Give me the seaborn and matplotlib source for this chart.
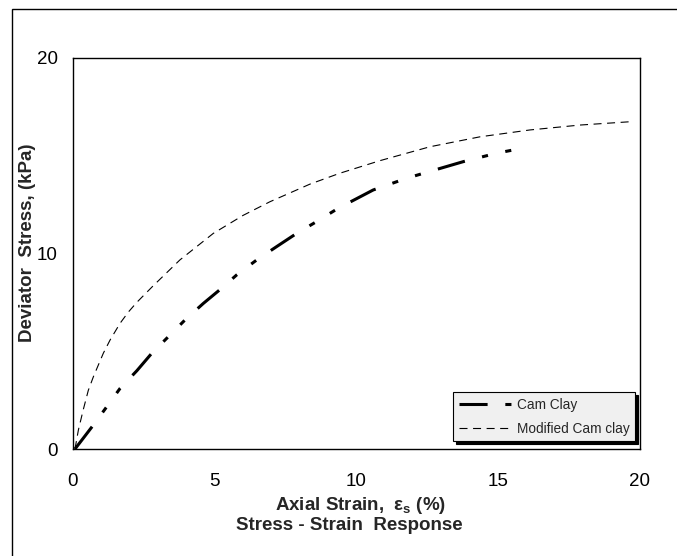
import numpy as np
import pandas as pd
import seaborn as sns
import matplotlib.pyplot as plt
from matplotlib.patches import Rectangle

# values
cam_strain = [0.07, 0.72, 1.19, 1.66, 2.25, 2.78, 3.36, 3.95, 4.6, 5.24, 5.77, 6.48,
              7.18, 7.89, 8.59, 9.35, 10.59, 11.77, 12.59, 13.77, 14.94, 15.9]
cam_stress = [0.0, 1.23, 2.16, 3.1, 4.0, 4.9, 5.74, 6.6, 7.45, 8.22, 8.9, 9.67,
              10.35, 11.03, 11.63, 12.31, 13.25, 13.85, 14.2, 14.7, 15.13, 15.4]

mcc_strain = [0.07, 0.19, 0.36, 0.54, 0.72, 1.07, 1.31, 1.66, 1.95, 2.25, 2.83, 3.77,
              4.95, 6.0, 6.95, 8.36, 9.4, 10.83, 12.59, 14.36, 16.12, 17.88, 19.65]
mcc_stress = [0.0, 0.97, 2.0, 3.0, 3.7, 4.9, 5.58, 6.43, 7.0, 7.5, 8.35, 9.67,
              11.03, 11.95, 12.65, 13.55, 14.1, 14.75, 15.46, 15.97, 16.32, 16.57, 16.74]

series_names = ["Cam Clay", "Modified Cam clay"]
x_ticks = [0, 5, 10, 15, 20]
y_ticks = [0, 10, 20]

sns.set_style("white")
plt.rcParams['font.family'] = ['Liberation Sans', 'DejaVu Sans']
plt.rcParams['mathtext.fontset'] = 'custom'
plt.rcParams['mathtext.bf'] = 'Liberation Sans:bold'
plt.rcParams['mathtext.rm'] = 'Liberation Sans'

cam_df = pd.DataFrame({"strain": cam_strain, "stress": cam_stress})
mcc_df = pd.DataFrame({"strain": mcc_strain, "stress": mcc_stress})

fig = plt.figure(figsize=(6.77, 5.56), dpi=100)
ax = fig.add_axes([73 / 677, 1 - 449 / 556, (640 - 73) / 677, (449 - 58) / 556])

sns.lineplot(data=cam_df, x="strain", y="stress", ax=ax, sort=False, color="black",
             linewidth=2.2, linestyle=(0, (9.2, 5.8, 2.0, 5.8, 2.0, 5.8)),
             label=series_names[0])
sns.lineplot(data=mcc_df, x="strain", y="stress", ax=ax, sort=False, color="black",
             linewidth=0.8, linestyle=(0, (7.2, 5.0)), label=series_names[1])

ax.set_xlim(0, 20)
ax.set_ylim(0, 20)
ax.set_xticks(x_ticks)
ax.set_yticks(y_ticks)
ax.tick_params(axis='both', direction='out', length=5, width=1, color='black',
               labelsize=13.5, labelcolor='black')
ax.tick_params(axis='x', pad=12)
ax.tick_params(axis='y', pad=6)
for sp in ax.spines.values():
    sp.set_color('black')
    sp.set_linewidth(1.0)

ax.set_xlabel(r"Axial Strain,  ε$_{\mathbf{s}}$ (%)", fontsize=13.5, fontweight='bold')
ax.set_ylabel("Deviator  Stress, (kPa)", fontsize=13.5, fontweight='bold')
ax.xaxis.set_label_coords(0.508, -0.118)
ax.yaxis.set_label_coords(-0.065, 0.527)

leg = ax.legend(loc='lower right', bbox_to_anchor=(0.991, 0.020), borderaxespad=0,
                fontsize=9.8, handlelength=3.9, handletextpad=0.35, labelspacing=0.75,
                borderpad=0.4, fancybox=False, framealpha=1, facecolor='#f0f0f0',
                edgecolor='black',
                shadow={'facecolor': 'black', 'edgecolor': 'black', 'alpha': 1})
leg.get_frame().set_linewidth(0.8)

fig.text(349.5 / 677, 1 - 526 / 556, "Stress - Strain  Response", ha='center', va='center',
         fontsize=13.5, fontweight='bold')

# outer chart border
fig.patches.append(Rectangle((12 / 677, -0.05), 1.1, 1 - 9 / 556 + 0.05, fill=False,
                             edgecolor='black', linewidth=1.0, transform=fig.transFigure,
                             figure=fig))

fig.savefig("out.png", dpi=100)
